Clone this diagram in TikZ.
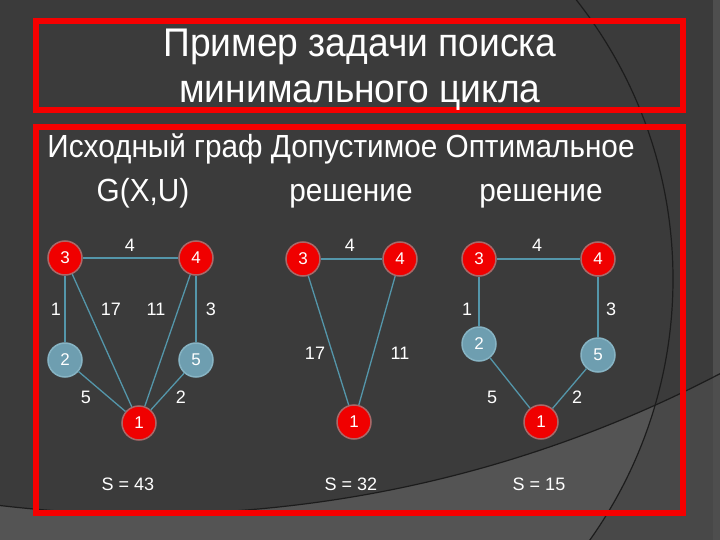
\documentclass[tikz,border=0pt]{standalone}
\usepackage{fontspec}
\setmainfont{Liberation Sans}
\newfontfamily\condfont[FakeStretch=0.93]{Liberation Sans}
\definecolor{bgdark}{RGB}{59,59,59}
\definecolor{bgmid}{RGB}{72,72,72}
\definecolor{bglight}{RGB}{84,84,84}
\definecolor{stripc}{RGB}{78,78,78}
\definecolor{arcc}{RGB}{28,28,28}
\definecolor{boxred}{RGB}{245,0,0}
\definecolor{edgec}{RGB}{84,150,170}
\definecolor{rednode}{RGB}{240,0,0}
\definecolor{redring}{RGB}{170,105,105}
\definecolor{bluenode}{RGB}{110,158,176}
\definecolor{bluering}{RGB}{135,180,196}
\begin{document}
\begin{tikzpicture}[x=1pt,y=-1pt,
  redbox/.style={draw=boxred,line width=6pt},
  titletext/.style={text=white,anchor=base,inner sep=0pt,font=\condfont\fontsize{40}{46}\selectfont},
  subtext/.style={text=white,anchor=base,inner sep=0pt,font=\condfont\fontsize{32}{37}\selectfont},
  vr/.style={circle,fill=rednode,draw=redring,line width=1.5pt,minimum size=34pt,inner sep=0pt,text=white,font=\fontsize{17}{19}\selectfont},
  vb/.style={circle,fill=bluenode,draw=bluering,line width=1.5pt,minimum size=34pt,inner sep=0pt,text=white,font=\fontsize{17}{19}\selectfont},
  edge/.style={draw=edgec,line width=1.3pt},
  wl/.style={text=white,inner sep=0pt,font=\fontsize{18}{20}\selectfont},
  arcline/.style={draw=arcc,line width=1.2pt}]
\useasboundingbox (0,0) rectangle (720,540);
% background
\fill[bgdark] (0,0) rectangle (720,540);
\begin{scope}
  \clip (0,0) rectangle (720,540);
  \fill[bgmid,even odd rule] (-10,-10) rectangle (730,550) (146,-728) circle (1242pt);
  \begin{scope}
    \clip (222,279) circle (451pt);
    \fill[bglight,even odd rule] (-10,-10) rectangle (730,550) (146,-728) circle (1242pt);
  \end{scope}
  \fill[stripc] (713,0) rectangle (720,540);
  \draw[arcline] (222,279) circle (451pt);
  \draw[arcline] (146,-728) circle (1242pt);
\end{scope}
% frames
\draw[redbox] (36,21.5) rectangle (683,110);
\draw[redbox] (36,127) rectangle (683,513);
% titles
\node[titletext] (t1) at (360,57) {Пример задачи поиска};
\node[titletext] (t2) at (360,103) {минимального цикла};
\node[subtext] (s1) at (341,158) {Исходный граф Допустимое Оптимальное};
\node[subtext] (s2) at (143,202) {G(X,U)};
\node[subtext] (s3) at (351,202) {решение};
\node[subtext] (s4) at (541,202) {решение};
% graph 1
\node[vr] (a3) at (65,258) {3};
\node[vr] (a4) at (196,258) {4};
\node[vb] (a2) at (65,360) {2};
\node[vb] (a5) at (196,360) {5};
\node[vr] (a1) at (139,423) {1};
\draw[edge] (a3) -- (a4);
\draw[edge] (a3) -- (a2);
\draw[edge] (a3) -- (a1);
\draw[edge] (a4) -- (a1);
\draw[edge] (a4) -- (a5);
\draw[edge] (a2) -- (a1);
\draw[edge] (a5) -- (a1);
\node[wl] (la34) at (130,245) {4};
\node[wl] (la32) at (56,309) {1};
\node[wl] (la31) at (111,309) {17};
\node[wl] (la41) at (156,309) {11};
\node[wl] (la45) at (211,309) {3};
\node[wl] (la21) at (86,397) {5};
\node[wl] (la51) at (181,397) {2};
% graph 2
\node[vr] (b3) at (303,259) {3};
\node[vr] (b4) at (400,259) {4};
\node[vr] (b1) at (354,422) {1};
\draw[edge] (b3) -- (b4);
\draw[edge] (b3) -- (b1);
\draw[edge] (b4) -- (b1);
\node[wl] (lb34) at (350,245) {4};
\node[wl] (lb31) at (315,353) {17};
\node[wl] (lb41) at (400,353) {11};
% graph 3
\node[vr] (c3) at (479,259) {3};
\node[vr] (c4) at (598,259) {4};
\node[vb] (c2) at (479,344) {2};
\node[vb] (c5) at (598,355) {5};
\node[vr] (c1) at (541,422) {1};
\draw[edge] (c3) -- (c4);
\draw[edge] (c3) -- (c2);
\draw[edge] (c4) -- (c5);
\draw[edge] (c2) -- (c1);
\draw[edge] (c5) -- (c1);
\node[wl] (lc34) at (537,245) {4};
\node[wl] (lc32) at (467,309) {1};
\node[wl] (lc45) at (611,309) {3};
\node[wl] (lc21) at (492,397) {5};
\node[wl] (lc51) at (577,397) {2};
% sums
\node[wl] (sa) at (128,484) {S = 43};
\node[wl] (sb) at (351,484) {S = 32};
\node[wl] (sc) at (539,484) {S = 15};
\end{tikzpicture}
\end{document}
